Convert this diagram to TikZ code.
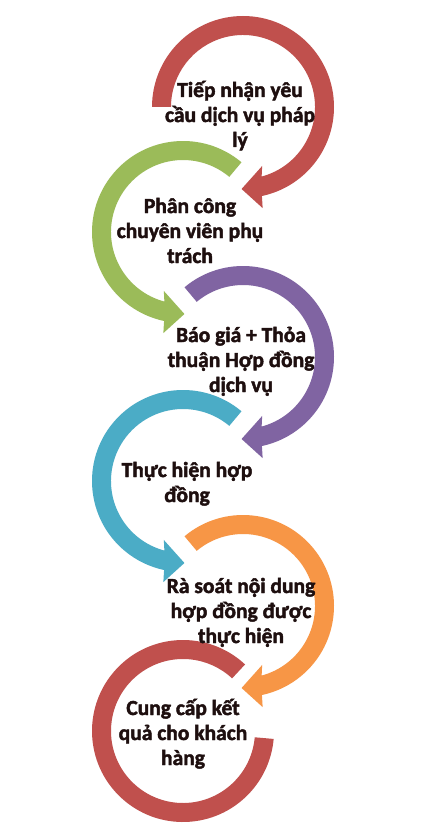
\documentclass[tikz,border=0pt]{standalone}
\usepackage{fontspec}
\setmainfont{Carlito}[BoldFeatures={FakeBold=2}]
\definecolor{cRed}{HTML}{C0504D}
\definecolor{cGreen}{HTML}{9BBB59}
\definecolor{cPurple}{HTML}{8064A2}
\definecolor{cTeal}{HTML}{4BACC6}
\definecolor{cOrange}{HTML}{F79646}
\definecolor{cText}{HTML}{1E0F0F}
\newcommand{\RingCW}[4]{%
  \begin{scope}[shift={(#1,#2)}]
  \fill[#4] (#3:91) arc[start angle=#3, end angle=78, radius=91]
     -- (79:103) -- (91:82) -- (72:62) -- (75:72)
     arc[start angle=75, end angle=#3, radius=72] -- cycle;
  \end{scope}}
\newcommand{\RingCCW}[4]{%
  \begin{scope}[shift={(#1,#2)}]
  \fill[#4] (#3:91) arc[start angle=#3, end angle=-258, radius=91]
     -- (-259:103) -- (-271:82) -- (-252:62) -- (-255:72)
     arc[start angle=-255, end angle=#3, radius=72] -- cycle;
  \end{scope}}
\tikzset{txt/.style={anchor=base, inner sep=0pt, text=cText,
  font=\fontsize{21.5}{25}\selectfont\bfseries}}
\begin{document}
\begin{tikzpicture}[x=1pt, y=-1pt]
\useasboundingbox (0,0) rectangle (427,824);
\fill[white] (0,0) rectangle (427,824);
\RingCW{243}{107}{-180}{cRed}
\RingCCW{183}{232}{-50}{cGreen}
\RingCW{243}{357}{-130}{cPurple}
\RingCCW{183}{481}{-50}{cTeal}
\RingCW{243}{606}{-130}{cOrange}
\begin{scope}[shift={(183,731)}]
\fill[cRed] (-47:91) arc[start angle=-47, end angle=-355, radius=91]
  -- (-355:72) arc[start angle=-355, end angle=-47, radius=72] -- cycle;
\end{scope}
\node[txt] (t1) at (240,97) {\begin{tabular}[t]{@{}c@{}}Tiếp nhận yêu\\cầu dịch vụ pháp\\lý\end{tabular}};
\node[txt] (t2) at (190,213) {\begin{tabular}[t]{@{}c@{}}Phân công\\chuyên viên phụ\\trách\end{tabular}};
\node[txt] (t3) at (241,342) {\begin{tabular}[t]{@{}c@{}}Báo giá + Thỏa\\thuận Hợp đồng\\dịch vụ\end{tabular}};
\node[txt] (t4) at (187,477) {\begin{tabular}[t]{@{}c@{}}Thực hiện hợp\\đồng\end{tabular}};
\node[txt] (t5) at (241,593) {\begin{tabular}[t]{@{}c@{}}Rà soát nội dung\\hợp đồng được\\thực hiện\end{tabular}};
\node[txt] (t6) at (183,715) {\begin{tabular}[t]{@{}c@{}}Cung cấp kết\\quả cho khách\\hàng\end{tabular}};
\end{tikzpicture}
\end{document}
